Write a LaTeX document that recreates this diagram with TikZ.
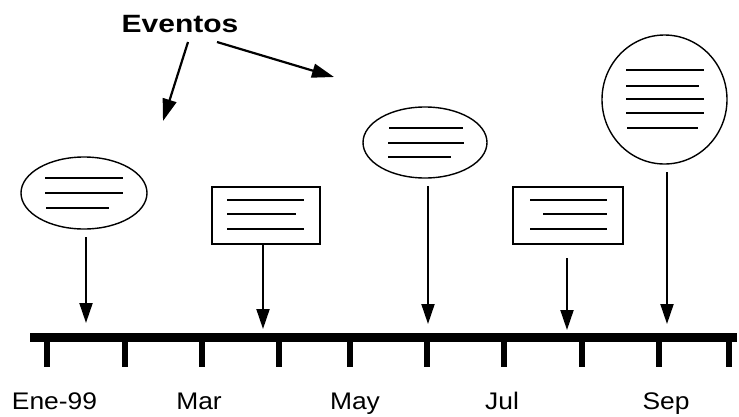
\documentclass[tikz,border=0pt]{standalone}
\usepackage{fontspec}
\setmainfont{Liberation Sans}
\newfontfamily\monthfont[FakeStretch=1.1]{Liberation Sans}
\newfontfamily\titlefont[FakeStretch=1.2]{Liberation Sans Bold}
\usetikzlibrary{arrows.meta,shapes.geometric}
\begin{document}
\begin{tikzpicture}[x=1pt,y=-1pt,
  evshape/.style={draw,line width=1.4pt,inner sep=0pt},
  evellipse/.style={evshape,ellipse},
  evbox/.style={evshape,rectangle},
  txtline/.style={line width=2.4pt},
  pointer/.style={line width=2pt,-{Triangle[length=20pt,width=13pt]}},
  callout/.style={line width=2.2pt,-{Triangle[length=22pt,width=14pt]}},
  month/.style={font=\monthfont\fontsize{24}{28}\selectfont,anchor=base},
  tick/.style={line width=6pt}]
\useasboundingbox (0,0) rectangle (739,416);

% time axis
\coordinate (axL) at (30,337.5);
\coordinate (axR) at (737,337.5);
\draw[line width=8.5pt] (axL) -- (axR);
\foreach \x in {47,125,202,279,350,427,504,582,659,729}
  \draw[tick] (\x,341) -- (\x,367);

% month labels
\node[month] (ene) at (54.5,409) {Ene-99};
\node[month] (mar) at (199,409) {Mar};
\node[month] (may) at (355,409) {May};
\node[month] (jul) at (502,409) {Jul};
\node[month] (sep) at (666,409) {Sep};

% event 1: ellipse
\node[evellipse,minimum width=126pt,minimum height=72pt] (e1) at (84,193) {};
\draw[txtline] (45,178) -- (123,178);
\draw[txtline] (45,193) -- (123,193);
\draw[txtline] (46,208) -- (109,208);
\coordinate (t1) at (86,323);
\draw[pointer] (86,237) -- (t1);

% event 2: box
\node[evbox,minimum width=108pt,minimum height=57pt] (e2) at (266,215.5) {};
\draw[txtline] (227,200) -- (304,200);
\draw[txtline] (227,214) -- (296,214);
\draw[txtline] (227,229) -- (304,229);
\coordinate (t2) at (263,329);
\draw[pointer] (e2.south -| t2) -- (t2);

% event 3: ellipse
\node[evellipse,minimum width=124pt,minimum height=71pt] (e3) at (425,142.5) {};
\draw[txtline] (389,128) -- (463,128);
\draw[txtline] (388,143) -- (464,143);
\draw[txtline] (388,157) -- (451,157);
\coordinate (t3) at (428,324);
\draw[pointer] (428,186) -- (t3);

% event 4: box
\node[evbox,minimum width=110pt,minimum height=57pt] (e4) at (568,215.5) {};
\draw[txtline] (530,200) -- (607,200);
\draw[txtline] (543,214) -- (607,214);
\draw[txtline] (530,229) -- (607,229);
\coordinate (t4) at (567,330);
\draw[pointer] (567,258) -- (t4);

% event 5: circle
\node[evellipse,minimum width=125pt,minimum height=129pt] (e5) at (664.5,99.5) {};
\draw[txtline] (626,70) -- (704,70);
\draw[txtline] (626,86) -- (699,86);
\draw[txtline] (626,99) -- (704,99);
\draw[txtline] (626,113) -- (704,113);
\draw[txtline] (627,128) -- (698,128);
\coordinate (t5) at (667,324);
\draw[pointer] (667,172) -- (t5);

% title with its two callout arrows
\node[font=\titlefont\fontsize{25}{29}\selectfont,anchor=base] (ev) at (180,32) {Eventos};
\coordinate (c1) at (163,121);
\coordinate (c2) at (334,77);
\draw[callout] (188,42) -- (c1);
\draw[callout] (217,42) -- (c2);
\end{tikzpicture}
\end{document}
